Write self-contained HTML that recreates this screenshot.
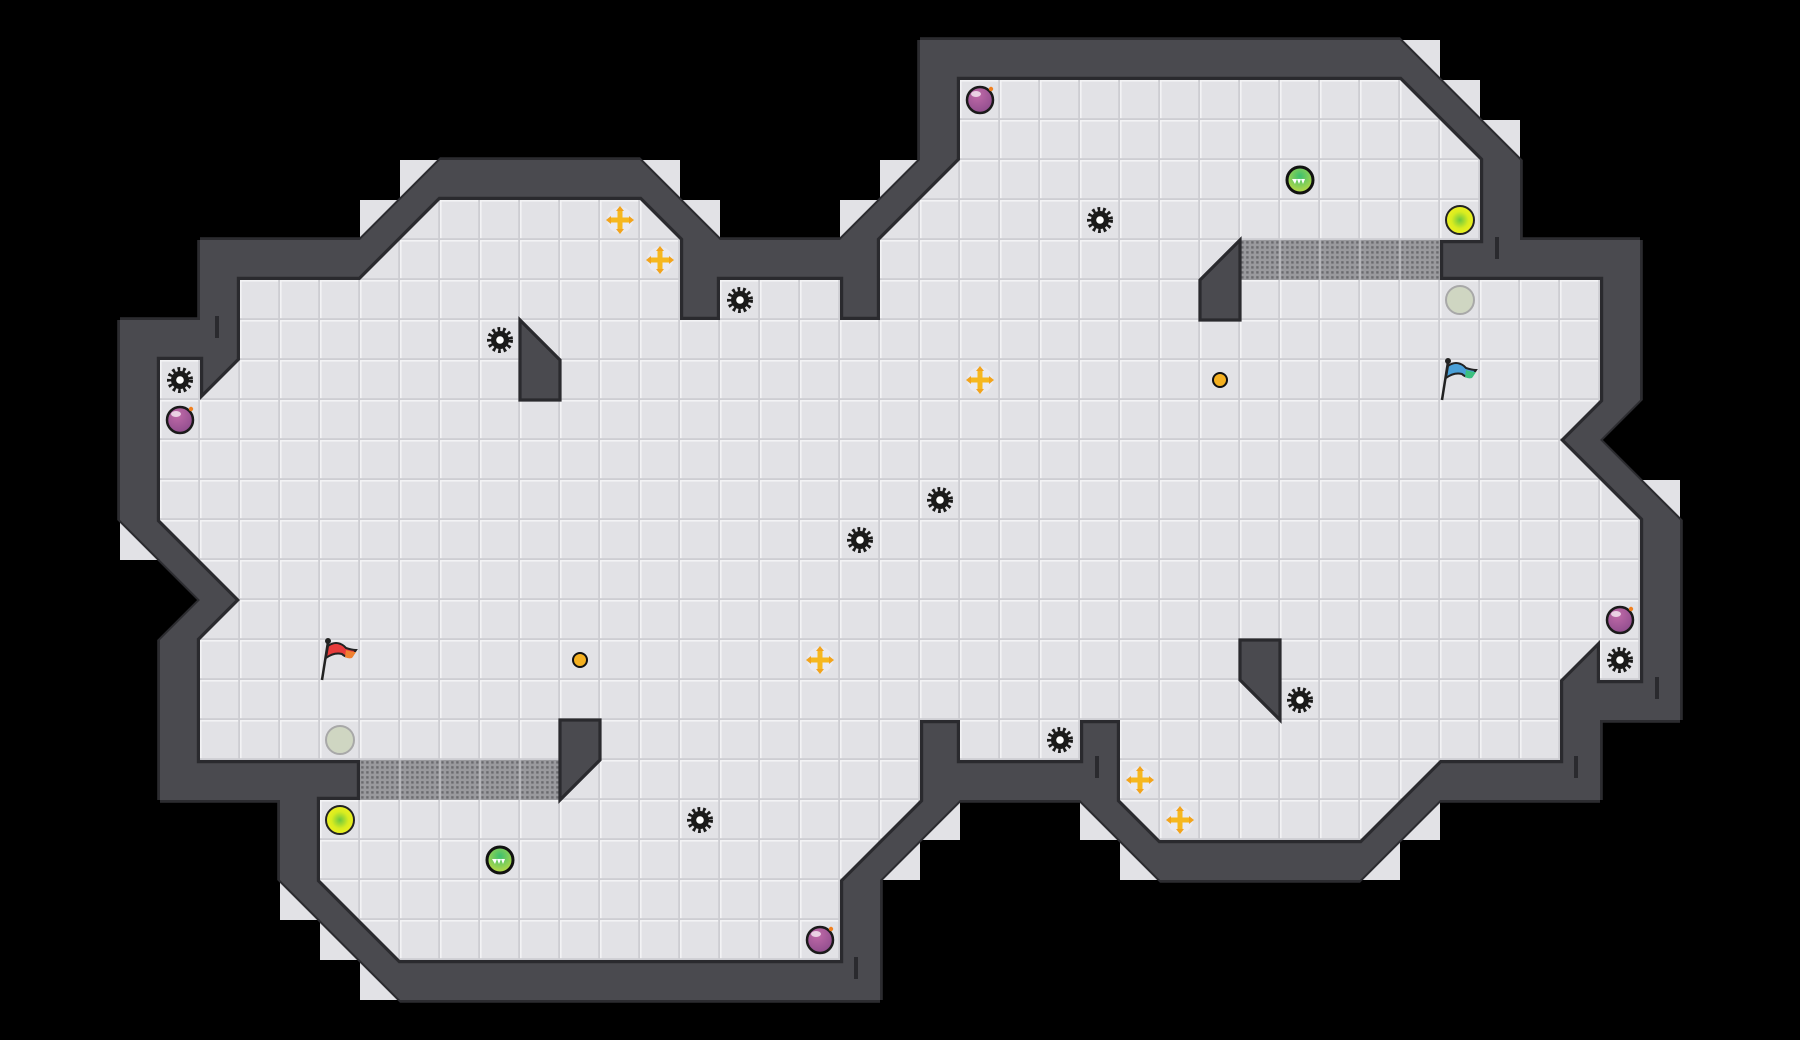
<!DOCTYPE html>
<html><head><meta charset="utf-8"><style>html,body{margin:0;padding:0;background:#000;width:1800px;height:1040px;overflow:hidden}</style></head>
<body>
<svg width="1800" height="1040" viewBox="0 0 1800 1040" xmlns="http://www.w3.org/2000/svg">
<defs>
<pattern id="tile" patternUnits="userSpaceOnUse" width="1" height="1">
<rect width="1" height="1" fill="#e2e2e6"/>
<rect width="1" height="0.04" fill="#f3f3f5"/>
<rect width="0.04" height="1" fill="#f3f3f5"/>
<rect y="0.955" width="1" height="0.045" fill="#cdcdd2"/>
<rect x="0.955" width="0.045" height="1" fill="#cdcdd2"/>
</pattern>
<pattern id="grate" patternUnits="userSpaceOnUse" width="0.125" height="0.125">
<rect width="0.125" height="0.125" fill="#9a9a9e"/>
<rect x="0.03" y="0.03" width="0.06" height="0.06" fill="#6a6a6e"/>
</pattern>
<polygon id="fl" points="5,6 8,6 10,4 15,4 16,5 16,7 17,7 17,6 20,6 20,7 21,7 21,5 23,3 23,1 34,1 36,3 36,5 35,5 35,6 39,6 39,9 38,10 40,12 40,16 39,16 39,15 38,16 38,18 35,18 33,20 28,20 27,19 27,17 26,17 26,18 23,18 23,17 22,17 22,19 20,21 20,23 9,23 7,21 7,19 8,19 8,18 4,18 4,15 5,14 3,12 3,8 4,8 4,9 5,8"/>
<radialGradient id="bomb" cx="0.4" cy="0.3" r="0.8"><stop offset="0" stop-color="#c06aa8"/><stop offset="1" stop-color="#8a4a8a"/></radialGradient>
<radialGradient id="grn" cx="0.5" cy="0.35" r="0.7"><stop offset="0" stop-color="#3cc070"/><stop offset="1" stop-color="#c8dc40"/></radialGradient>
<radialGradient id="yel" cx="0.5" cy="0.5" r="0.5"><stop offset="0" stop-color="#6cc840"/><stop offset="0.6" stop-color="#d8ec20"/><stop offset="1" stop-color="#eef020"/></radialGradient>
<g id="gear"><circle r="10.5" fill="none" stroke="#1a1a1a" stroke-width="5" stroke-dasharray="2.6 2.6"/><circle r="9" fill="#1a1a1a"/><circle r="3.8" fill="#fff"/></g>
<g id="bm"><circle r="13" fill="url(#bomb)" stroke="#1a1a1a" stroke-width="2.5"/><ellipse cx="-4" cy="-6" rx="5" ry="3" fill="#fff" opacity="0.7"/><circle cx="11" cy="-11" r="2.2" fill="#f08020"/></g>
<g id="cr"><circle r="13" fill="#ebebef" opacity="0.9"/><path d="M-2.5,-9 h5 v6.5 h6.5 v5 h-6.5 v6.5 h-5 v-6.5 h-6.5 v-5 h6.5z" fill="#f6b81e"/><path d="M0,-14 l-4,5 h8z M0,14 l-4,-5 h8z M-14,0 l5,-4 v8z M14,0 l-5,-4 v8z" fill="#f2a41c"/></g>
<g id="gb"><circle r="13" fill="url(#grn)" stroke="#111" stroke-width="3"/><path d="M-8,-1 l3,5 l2,-5 l2,5 l2,-5 l2,5 l2,-5z" fill="#fff"/></g>
<g id="yc"><circle r="14" fill="url(#yel)" stroke="#222" stroke-width="2"/></g>
<g id="pc"><circle r="14" fill="#cfd6c2" stroke="#a8a8a8" stroke-width="2"/></g>
<g id="wallset"><use href="#fl" transform="translate(1,0)"/><use href="#fl" transform="translate(-1,0)"/><use href="#fl" transform="translate(0,1)"/><use href="#fl" transform="translate(0,-1)"/>
<rect x="4" y="5" width="1" height="1"/><rect x="16" y="5" width="1" height="1"/><rect x="20" y="5" width="1" height="1"/><rect x="22" y="0" width="1" height="1"/><rect x="36" y="5" width="1" height="1"/><rect x="39" y="5" width="1" height="1"/><rect x="40" y="16" width="1" height="1"/><rect x="38" y="16" width="1" height="1"/><rect x="38" y="18" width="1" height="1"/><rect x="26" y="18" width="1" height="1"/><rect x="22" y="18" width="1" height="1"/><rect x="20" y="23" width="1" height="1"/><rect x="6" y="18" width="1" height="1"/><rect x="3" y="18" width="1" height="1"/><rect x="2" y="7" width="1" height="1"/><rect x="4" y="7" width="1" height="1"/></g>
</defs>
<rect width="1800" height="1040" fill="#000"/>
<g transform="translate(40,40) scale(40)">
<g fill="#e2e2e6">
<rect x="8" y="4" width="1" height="1"/><rect x="9" y="3" width="1" height="1"/>
<rect x="15" y="3" width="1" height="1"/><rect x="16" y="4" width="1" height="1"/>
<rect x="20" y="4" width="1" height="1"/><rect x="21" y="3" width="1" height="1"/>
<rect x="34" y="0" width="1" height="1"/><rect x="35" y="1" width="1" height="1"/><rect x="36" y="2" width="1" height="1"/>
<rect x="40" y="11" width="1" height="1"/>
<rect x="34" y="19" width="1" height="1"/><rect x="33" y="20" width="1" height="1"/>
<rect x="26" y="19" width="1" height="1"/><rect x="27" y="20" width="1" height="1"/>
<rect x="21" y="20" width="1" height="1"/><rect x="22" y="19" width="1" height="1"/>
<rect x="6" y="21" width="1" height="1"/><rect x="7" y="22" width="1" height="1"/><rect x="8" y="23" width="1" height="1"/>
<rect x="2" y="12" width="1" height="1"/>
</g>
<g fill="#2c2c30">
<use href="#wallset" transform="translate(-0.07,0)"/><use href="#wallset" transform="translate(0.07,0)"/><use href="#wallset" transform="translate(0,-0.07)"/><use href="#wallset" transform="translate(0,0.07)"/>
</g>
<g fill="#4a4a4f"><use href="#wallset"/></g>
<use href="#fl" fill="none" stroke="#2a2a2e" stroke-width="0.16" stroke-linejoin="miter" stroke-miterlimit="10"/>
<use href="#fl" fill="url(#tile)"/>
<rect x="8" y="18" width="5" height="1" fill="url(#grate)"/>
<rect x="30" y="5" width="5" height="1" fill="url(#grate)"/>
<g stroke="#b4b4b8" stroke-width="0.06" fill="none">
<path d="M9,18v1M10,18v1M11,18v1M12,18v1M31,5v1M32,5v1M33,5v1M34,5v1"/>
</g>
<g fill="#4a4a4f" stroke="#2a2a2e" stroke-width="0.08" stroke-linejoin="miter">
<polygon points="12,7 13,8 13,9 12,9"/>
<polygon points="29,6 30,5 30,7 29,7"/>
<polygon points="30,15 31,15 31,17 30,16"/>
<polygon points="13,17 14,17 14,18 13,19"/>
</g>
</g>
<g fill="#2a2a2e">
<rect x="215" y="316" width="4" height="22"/><rect x="1495" y="237" width="4" height="22"/><rect x="854" y="957" width="4" height="22"/>
<rect x="1655" y="677" width="4" height="22"/><rect x="1574" y="756" width="4" height="22"/><rect x="1095" y="756" width="4" height="22"/>
</g>
<use href="#bm" x="980" y="100"/><use href="#bm" x="180" y="420"/><use href="#bm" x="820" y="940"/><use href="#bm" x="1620" y="620"/>
<use href="#gear" x="180" y="380"/><use href="#gear" x="500" y="340"/><use href="#gear" x="740" y="300"/><use href="#gear" x="1100" y="220"/>
<use href="#gear" x="940" y="500"/><use href="#gear" x="860" y="540"/><use href="#gear" x="700" y="820"/><use href="#gear" x="1060" y="740"/>
<use href="#gear" x="1300" y="700"/><use href="#gear" x="1620" y="660"/>
<use href="#cr" x="620" y="220"/><use href="#cr" x="660" y="260"/><use href="#cr" x="980" y="380"/><use href="#cr" x="820" y="660"/>
<use href="#cr" x="1140" y="780"/><use href="#cr" x="1180" y="820"/>
<circle cx="580" cy="660" r="7" fill="#f4b020" stroke="#111" stroke-width="2"/>
<circle cx="1220" cy="380" r="7" fill="#f4b020" stroke="#111" stroke-width="2"/>
<use href="#gb" x="1300" y="180"/><use href="#gb" x="500" y="860"/>
<use href="#yc" x="1460" y="220"/><use href="#yc" x="340" y="820"/>
<use href="#pc" x="1460" y="300"/><use href="#pc" x="340" y="740"/>
<g transform="translate(340,660)"><path d="M-18,20 L-12,-18" stroke="#222" stroke-width="2.5"/><circle cx="-12" cy="-19" r="3" fill="#222"/><path d="M-12,-14 q8,-6 16,0 l2,2 q6,2 10,2 l-4,6 q-6,2 -10,-2 q-8,-2 -16,4 z" fill="#e83c3c" stroke="#222" stroke-width="2"/><path d="M6,-10 q6,2 10,2 l-4,6 q-4,1 -7,-1z" fill="#f08030"/></g>
<g transform="translate(1460,380)"><path d="M-18,20 L-12,-18" stroke="#222" stroke-width="2.5"/><circle cx="-12" cy="-19" r="3" fill="#222"/><path d="M-12,-14 q8,-6 16,0 l2,2 q6,2 10,2 l-4,6 q-6,2 -10,-2 q-8,-2 -16,4 z" fill="#4aa0d8" stroke="#222" stroke-width="2"/><path d="M6,-10 q6,2 10,2 l-4,6 q-4,1 -7,-1z" fill="#3cc080"/></g>
</svg>
</body></html>
